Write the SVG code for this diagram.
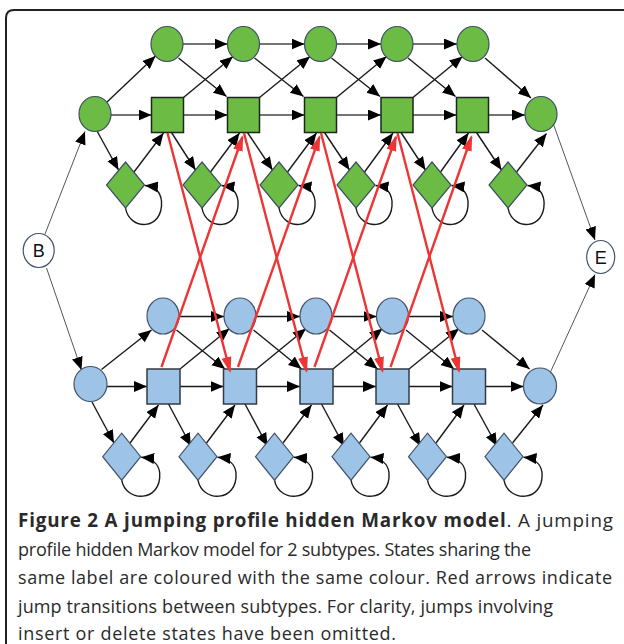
<svg xmlns="http://www.w3.org/2000/svg" width="624" height="644" viewBox="0 0 624 644">
<style>
.g{fill:#6cbb45;stroke:#3d4f63;stroke-width:1.2}
.gs{fill:#6cbb45;stroke:#1d261d;stroke-width:1.5}
.b{fill:#9dc3e6;stroke:#44546a;stroke-width:1.2}
.bs{fill:#9dc3e6;stroke:#333b44;stroke-width:1.5}
.w{fill:#fff;stroke:#44546a;stroke-width:1.2}
.e{fill:none;stroke:#1a1a1a;stroke-width:1.4;marker-end:url(#ah)}
.h{fill:none;stroke:#444;stroke-width:1.4;marker-end:url(#ah)}
.t{fill:none;stroke:#555;stroke-width:1;marker-end:url(#ah)}
.r{fill:none;stroke:#ee3535;stroke-width:2.4;marker-end:url(#rh)}
.lbl{font-family:"Liberation Sans",Arial,sans-serif;font-size:18px;fill:#111;text-anchor:middle}
.cap{font-family:"Open Sans","Noto Sans",sans-serif;font-size:18px;fill:#2a2a2a}
</style>
<defs>
<marker id="ah" markerUnits="userSpaceOnUse" markerWidth="14" markerHeight="12" refX="13" refY="5.5" orient="auto"><path d="M0,0 L13,5.5 L0,11 z" fill="#000"/></marker>
<marker id="rh" markerUnits="userSpaceOnUse" markerWidth="17" markerHeight="11" refX="14" refY="5" orient="auto"><path d="M0,0 L16,5 L0,10 z" fill="#ee3535"/></marker>
</defs>
<path d="M6,644 L6,18 Q6,10 14,10 L624,10" fill="none" stroke="#222" stroke-width="2"/>

<g id="connectors">
<path class="t" d="M45,234 L85,131.5"/>
<path class="t" d="M46.5,268 L81.5,370"/>
<path class="t" d="M553,123 L595,240"/>
<path class="t" d="M550,373 L595,274.5"/>
<!-- green -->
<path class="e" d="M107,102 L155.5,56"/>
<path class="h" d="M111,115 L151.5,115"/>
<path class="e" d="M97,131 L118.5,170"/>
<path class="h" d="M183,44 L227.5,44"/>
<path class="h" d="M259.5,44 L304.5,44"/>
<path class="h" d="M336.5,44 L381,44"/>
<path class="h" d="M413,44 L457,44"/>
<path class="e" d="M178.5,58 L226.5,96.5"/>
<path class="e" d="M254.5,58 L303.5,96.5"/>
<path class="e" d="M331.5,58 L380,96.5"/>
<path class="e" d="M408,58 L455.5,96.5"/>
<path class="e" d="M485,58 L531,98"/>
<path class="e" d="M183.5,97.5 L233,56.5"/>
<path class="e" d="M259.5,97.5 L310,56.5"/>
<path class="e" d="M336.5,97.5 L386.5,56.5"/>
<path class="e" d="M413,97.5 L462.5,56.5"/>
<path class="h" d="M183.5,115 L227.5,115"/>
<path class="h" d="M259.5,115 L304.5,115"/>
<path class="h" d="M336.5,115 L381,115"/>
<path class="h" d="M413,115 L456.5,115"/>
<path class="h" d="M488.5,115 L525,115"/>
<path class="e" d="M171.5,132.5 L195.5,170"/>
<path class="e" d="M247.5,132.5 L272.5,170"/>
<path class="e" d="M324.5,132.5 L349.5,170"/>
<path class="e" d="M401,132.5 L425.5,170"/>
<path class="e" d="M476.5,132.5 L501.5,170"/>
<path class="e" d="M134,172 L163.5,133"/>
<path class="e" d="M210.5,172 L239.5,133"/>
<path class="e" d="M287.5,172 L316.5,133"/>
<path class="e" d="M364.5,172 L393,133"/>
<path class="e" d="M440.5,172 L468.5,133"/>
<path class="e" d="M516.5,172 L546.5,133.5"/>
<path class="e" transform="translate(125.5,185)" d="M0,23 C4,46 38,46 36,16 C35,7 29,1.5 19.5,0.5"/>
<path class="e" transform="translate(202,185)" d="M0,23 C4,46 38,46 36,16 C35,7 29,1.5 19.5,0.5"/>
<path class="e" transform="translate(279,185)" d="M0,23 C4,46 38,46 36,16 C35,7 29,1.5 19.5,0.5"/>
<path class="e" transform="translate(356,185)" d="M0,23 C4,46 38,46 36,16 C35,7 29,1.5 19.5,0.5"/>
<path class="e" transform="translate(432,185)" d="M0,23 C4,46 38,46 36,16 C35,7 29,1.5 19.5,0.5"/>
<path class="e" transform="translate(508,185)" d="M0,23 C4,46 38,46 36,16 C35,7 29,1.5 19.5,0.5"/>
<!-- blue -->
<path class="e" d="M101.5,369.5 L151.5,330"/>
<path class="e" d="M107,386.5 L147,386.5"/>
<path class="e" d="M92,402 L114,443"/>
<path class="e" d="M179,316.5 L224,316.5"/>
<path class="e" d="M256,316.5 L300,316.5"/>
<path class="e" d="M332,316.5 L376.5,316.5"/>
<path class="e" d="M408.5,316.5 L453,316.5"/>
<path class="e" d="M176.5,330 L225,369"/>
<path class="e" d="M253.5,330 L301.5,369"/>
<path class="e" d="M329.5,330 L377.5,369"/>
<path class="e" d="M406,330 L454,369"/>
<path class="e" d="M482,330 L529.5,369"/>
<path class="e" d="M180,369 L229.5,328.5"/>
<path class="e" d="M256.5,369 L306,328.5"/>
<path class="e" d="M333,369 L382.5,328.5"/>
<path class="e" d="M409,369 L459,328.5"/>
<path class="e" d="M180,386.5 L223.5,386.5"/>
<path class="e" d="M256.5,386.5 L300,386.5"/>
<path class="e" d="M333,386.5 L376,386.5"/>
<path class="e" d="M409,386.5 L452.5,386.5"/>
<path class="e" d="M485.5,386.5 L523.5,386.5"/>
<path class="e" d="M130,443 L158.5,405"/>
<path class="e" d="M206.5,443 L235,405"/>
<path class="e" d="M283,443 L311.5,405"/>
<path class="e" d="M359.5,443 L387.5,405"/>
<path class="e" d="M436,443 L464,405"/>
<path class="e" d="M512.5,443 L543,405"/>
<path class="e" d="M168.5,404 L191,446"/>
<path class="e" d="M245,404 L267.5,446"/>
<path class="e" d="M321.5,404 L344,446"/>
<path class="e" d="M397.5,404 L420.5,446"/>
<path class="e" d="M474,404 L497,446"/>
<path class="e" transform="translate(121.7,456.7)" d="M0,23.5 C4,46 40,46 38,16 C37,7 30,1.5 19.5,0.5"/>
<path class="e" transform="translate(198,456.7)" d="M0,23.5 C4,46 40,46 38,16 C37,7 30,1.5 19.5,0.5"/>
<path class="e" transform="translate(274.5,456.7)" d="M0,23.5 C4,46 40,46 38,16 C37,7 30,1.5 19.5,0.5"/>
<path class="e" transform="translate(351,456.7)" d="M0,23.5 C4,46 40,46 38,16 C37,7 30,1.5 19.5,0.5"/>
<path class="e" transform="translate(427.5,456.7)" d="M0,23.5 C4,46 40,46 38,16 C37,7 30,1.5 19.5,0.5"/>
<path class="e" transform="translate(504,456.7)" d="M0,23.5 C4,46 40,46 38,16 C37,7 30,1.5 19.5,0.5"/>
</g>

<g id="B"><ellipse class="w" cx="38.7" cy="250.5" rx="15.5" ry="17"/><text class="lbl" x="38.7" y="257">B</text></g>
<g id="E"><ellipse class="w" cx="600.7" cy="257" rx="14" ry="16.5"/><text class="lbl" x="600.7" y="263.5">E</text></g>

<g id="g-begin"><ellipse class="g" cx="95" cy="114" rx="16" ry="17.5"/></g>
<g id="g-end"><ellipse class="g" cx="541" cy="114" rx="16" ry="17.5"/></g>
<g id="g-d1"><ellipse class="g" cx="167" cy="44" rx="16" ry="17.5"/></g>
<g id="g-d2"><ellipse class="g" cx="243.5" cy="44" rx="16" ry="17.5"/></g>
<g id="g-d3"><ellipse class="g" cx="320.5" cy="44" rx="16" ry="17.5"/></g>
<g id="g-d4"><ellipse class="g" cx="397" cy="44" rx="16" ry="17.5"/></g>
<g id="g-d5"><ellipse class="g" cx="473" cy="44" rx="16" ry="17.5"/></g>
<g id="g-m1"><rect class="gs" x="151.5" y="97.5" width="32" height="35"/></g>
<g id="g-m2"><rect class="gs" x="227.5" y="97.5" width="32" height="35"/></g>
<g id="g-m3"><rect class="gs" x="304.5" y="97.5" width="32" height="35"/></g>
<g id="g-m4"><rect class="gs" x="381" y="97.5" width="32" height="35"/></g>
<g id="g-m5"><rect class="gs" x="456.5" y="97.5" width="32" height="35"/></g>
<g id="g-i0"><polygon class="g" points="125.5,162 144.5,185 125.5,208 106.5,185"/></g>
<g id="g-i1"><polygon class="g" points="202,162 221,185 202,208 183,185"/></g>
<g id="g-i2"><polygon class="g" points="279,162 298,185 279,208 260,185"/></g>
<g id="g-i3"><polygon class="g" points="356,162 375,185 356,208 337,185"/></g>
<g id="g-i4"><polygon class="g" points="432,162 451,185 432,208 413,185"/></g>
<g id="g-i5"><polygon class="g" points="508,162 527,185 508,208 489,185"/></g>

<g id="b-begin"><ellipse class="b" cx="90.5" cy="384" rx="16.5" ry="17.5"/></g>
<g id="b-end"><ellipse class="b" cx="540" cy="386" rx="16.5" ry="18"/></g>
<g id="b-d1"><ellipse class="b" cx="163" cy="316" rx="16" ry="18"/></g>
<g id="b-d2"><ellipse class="b" cx="240" cy="316" rx="16" ry="18"/></g>
<g id="b-d3"><ellipse class="b" cx="316" cy="316" rx="16" ry="18"/></g>
<g id="b-d4"><ellipse class="b" cx="392.5" cy="316" rx="16" ry="18"/></g>
<g id="b-d5"><ellipse class="b" cx="469" cy="316" rx="16" ry="18"/></g>
<g id="b-m1"><rect class="bs" x="147" y="369" width="33" height="35"/></g>
<g id="b-m2"><rect class="bs" x="223.5" y="369" width="33" height="35"/></g>
<g id="b-m3"><rect class="bs" x="300" y="369" width="33" height="35"/></g>
<g id="b-m4"><rect class="bs" x="376" y="369" width="33" height="35"/></g>
<g id="b-m5"><rect class="bs" x="452.5" y="369" width="33" height="35"/></g>
<g id="b-i0"><polygon class="b" points="121.7,433.2 140.7,456.7 121.7,480.2 102.7,456.7"/></g>
<g id="b-i1"><polygon class="b" points="198,433.2 217,456.7 198,480.2 179,456.7"/></g>
<g id="b-i2"><polygon class="b" points="274.5,433.2 293.5,456.7 274.5,480.2 255.5,456.7"/></g>
<g id="b-i3"><polygon class="b" points="351,433.2 370,456.7 351,480.2 332,456.7"/></g>
<g id="b-i4"><polygon class="b" points="427.5,433.2 446.5,456.7 427.5,480.2 408.5,456.7"/></g>
<g id="b-i5"><polygon class="b" points="504,433.2 523,456.7 504,480.2 485,456.7"/></g>

<g id="jumps">
<path class="r" d="M167.5,133 L230,371"/>
<path class="r" d="M244,133 L306.5,371"/>
<path class="r" d="M321,133 L382.5,371"/>
<path class="r" d="M397.5,133 L459,371"/>
<path class="r" d="M161.5,367 L242.5,137"/>
<path class="r" d="M238,367 L319.5,137"/>
<path class="r" d="M314.5,367 L396,137"/>
<path class="r" d="M390.5,367 L471.5,137"/>
</g>

<g id="caption" class="cap">
<text x="18" y="527" font-size="18.8" textLength="595" lengthAdjust="spacing"><tspan font-weight="bold">Figure 2 A jumping profile hidden Markov model</tspan>. A jumping</text>
<text x="18" y="555.5" textLength="513" lengthAdjust="spacing">profile hidden Markov model for 2 subtypes. States sharing the</text>
<text x="18" y="584" textLength="594" lengthAdjust="spacing">same label are coloured with the same colour. Red arrows indicate</text>
<text x="18" y="612.5" textLength="535" lengthAdjust="spacing">jump transitions between subtypes. For clarity, jumps involving</text>
<text x="18" y="640" textLength="378" lengthAdjust="spacing">insert or delete states have been omitted.</text>
</g>
</svg>
